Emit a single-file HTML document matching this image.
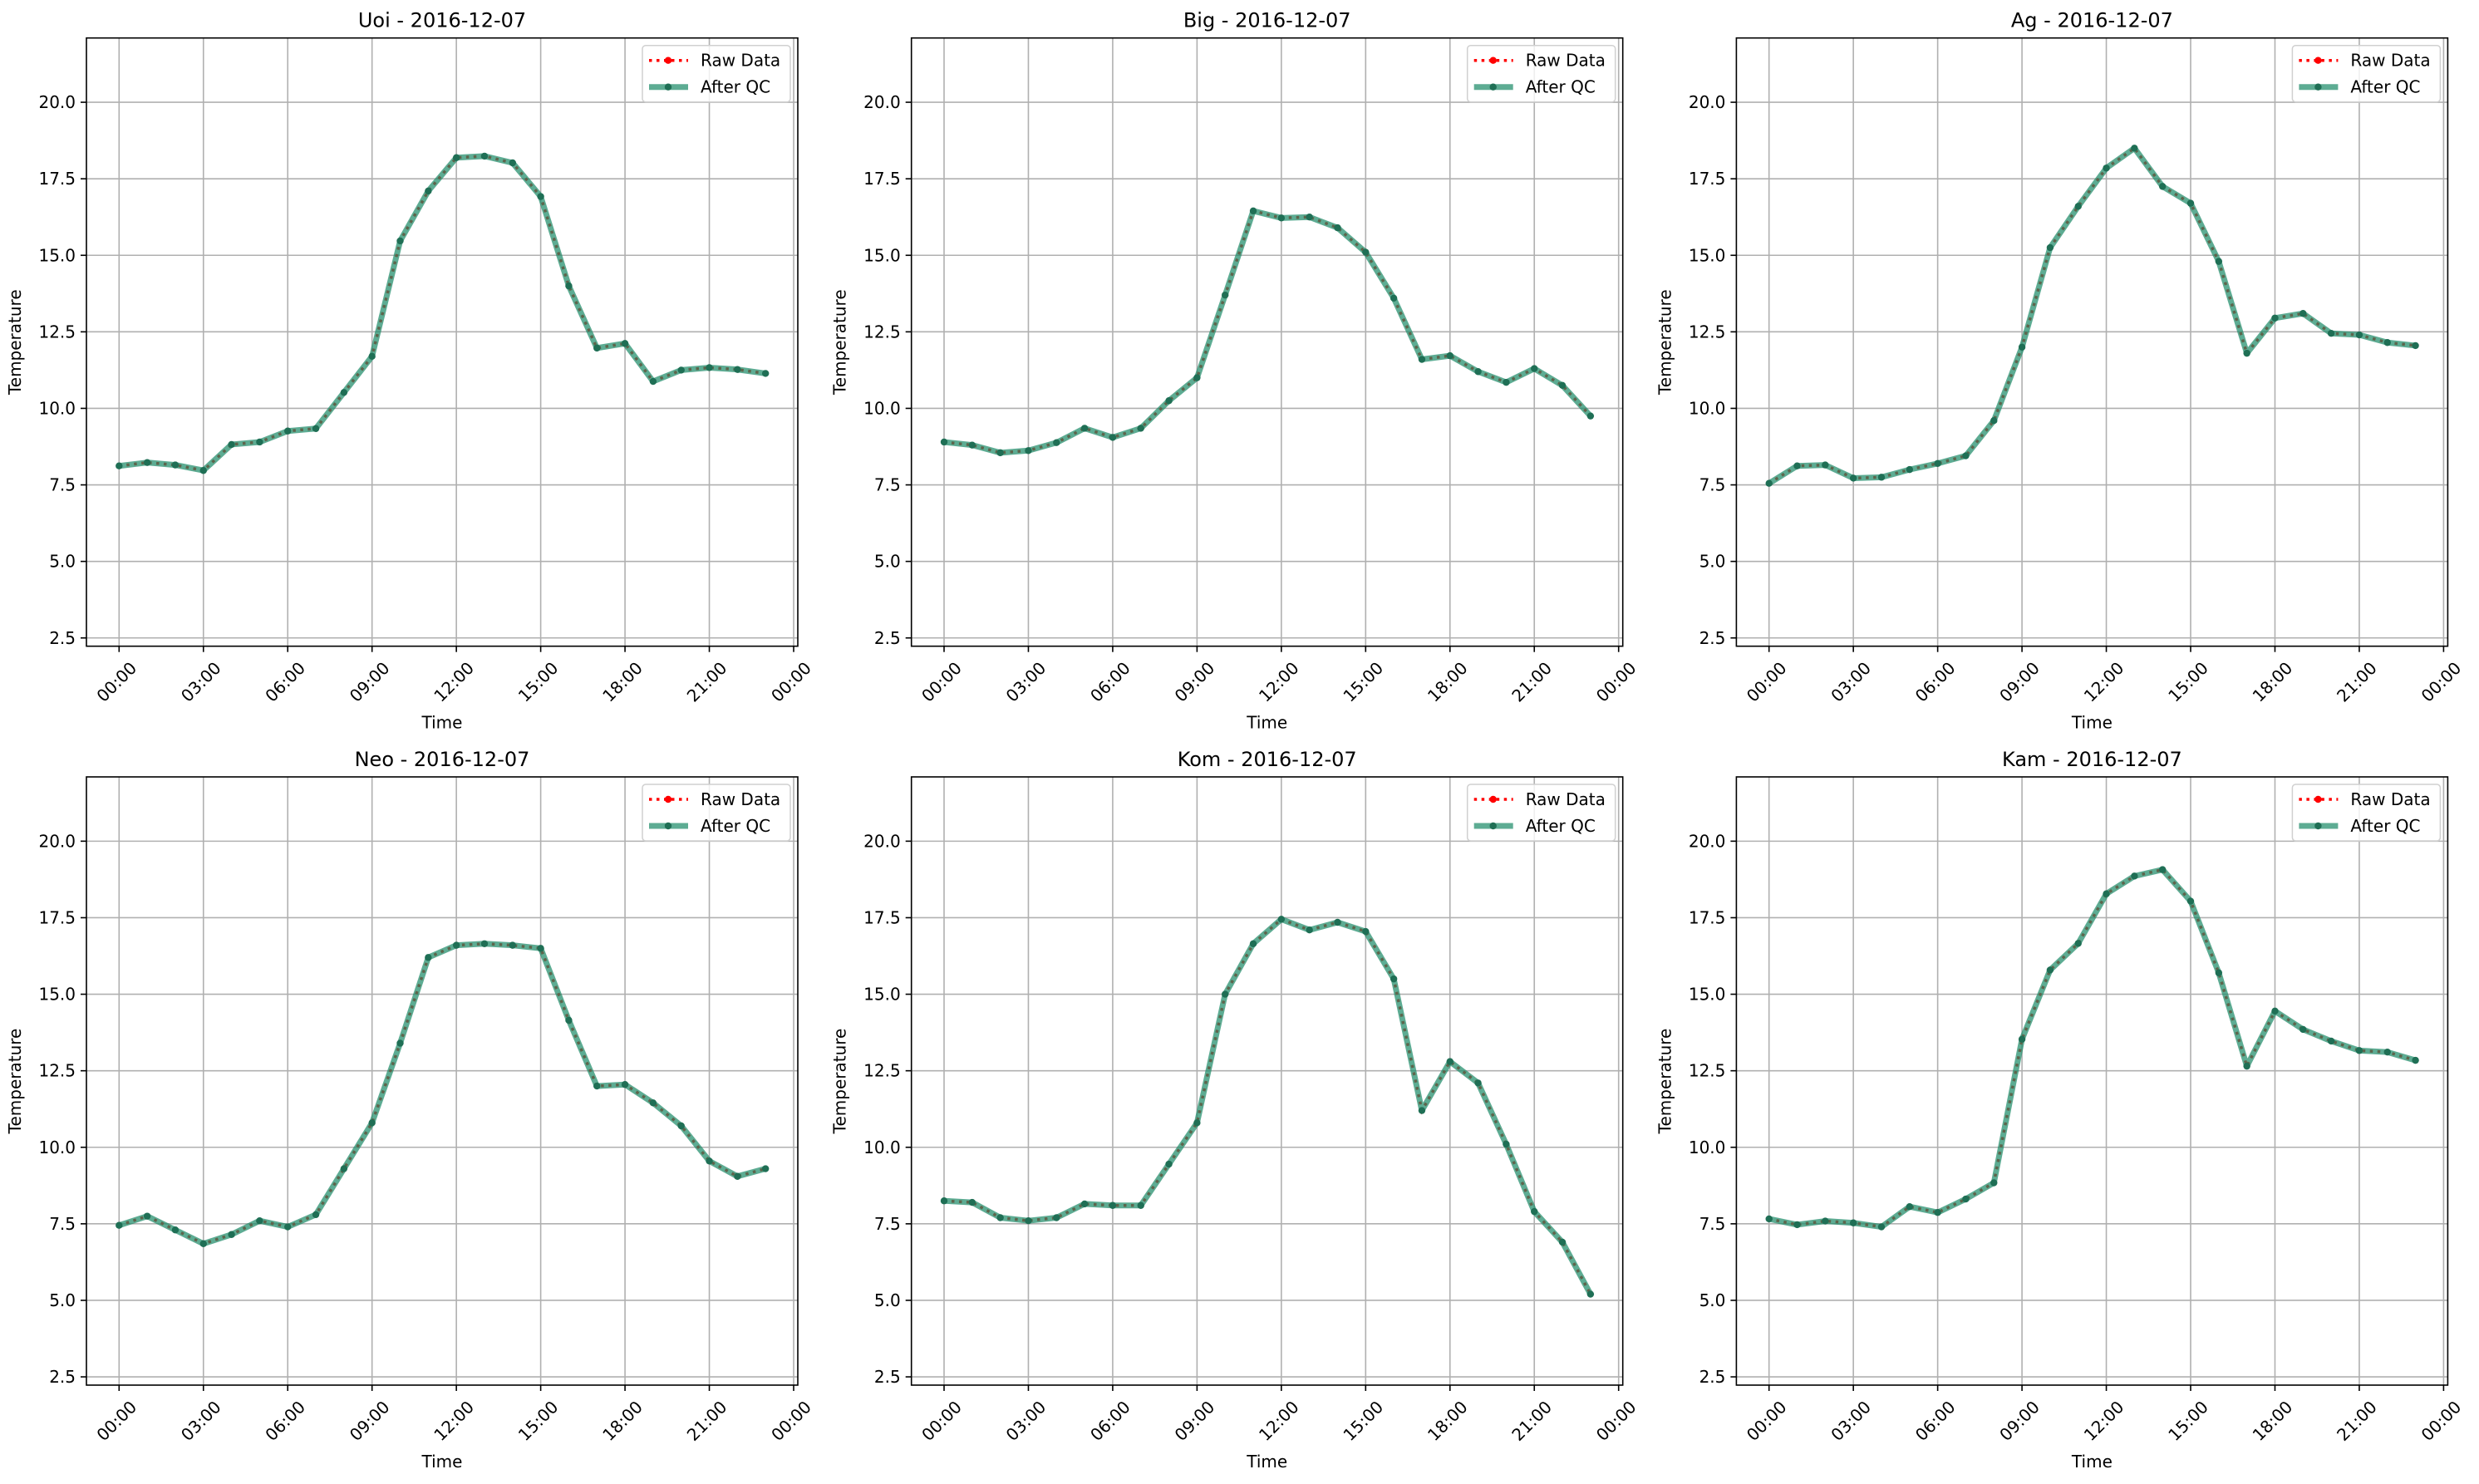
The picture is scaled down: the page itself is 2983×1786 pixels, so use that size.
<!DOCTYPE html>
<html><head><meta charset="utf-8"><style>
html,body{margin:0;padding:0;background:#fff;}
svg text{font-family:"DejaVu Sans","Liberation Sans",sans-serif;fill:#000;}
</style></head><body>
<svg id="chart" width="2983" height="1781" viewBox="0 0 2983 1781" xmlns="http://www.w3.org/2000/svg"></svg>
<script>
const stations = ["Uoi","Big","Ag","Neo","Kom","Kam"];
const dateLabel = "2016-12-07";
const hours = [0,1,2,3,4,5,6,7,8,9,10,11,12,13,14,15,16,17,18,19,20,21,22,23];
const uoiValues = [8.12,8.23,8.15,7.97,8.82,8.9,9.26,9.34,10.52,11.7,15.47,17.1,18.19,18.24,18.02,16.92,14.0,11.97,12.12,10.88,11.25,11.33,11.27,11.14];
const bigValues = [8.9,8.8,8.55,8.62,8.88,9.35,9.05,9.35,10.25,11.0,13.7,16.45,16.22,16.25,15.9,15.1,13.6,11.6,11.72,11.2,10.85,11.3,10.75,9.75];
const agValues = [7.55,8.12,8.15,7.72,7.75,8.0,8.2,8.45,9.6,12.0,15.25,16.6,17.85,18.5,17.25,16.7,14.8,11.8,12.95,13.1,12.45,12.4,12.15,12.05];
const neoValues = [7.45,7.75,7.3,6.85,7.15,7.6,7.4,7.8,9.3,10.8,13.4,16.2,16.6,16.65,16.6,16.5,14.15,12.0,12.05,11.45,10.7,9.55,9.05,9.3];
const komValues = [8.25,8.2,7.7,7.6,7.7,8.15,8.1,8.1,9.45,10.8,15.0,16.65,17.45,17.1,17.35,17.05,15.5,11.2,12.8,12.1,10.1,7.9,6.9,5.2];
const kamValues = [7.66,7.47,7.59,7.53,7.4,8.06,7.87,8.31,8.84,13.53,15.79,16.66,18.28,18.86,19.07,18.04,15.7,12.65,14.45,13.85,13.47,13.16,13.11,12.84];
const yTicks = [2.5,5.0,7.5,10.0,12.5,15.0,17.5,20.0];
const xTickHours = [0,3,6,9,12,15,18,21,24];
const xTickLabels = ["00:00","03:00","06:00","09:00","12:00","15:00","18:00","21:00","00:00"];

const series = [uoiValues,bigValues,agValues,neoValues,komValues,kamValues];
const NS="http://www.w3.org/2000/svg";
const svg=document.getElementById('chart');
function mk(tag,attrs,parent){const e=document.createElementNS(NS,tag);for(const k in attrs)e.setAttribute(k,attrs[k]);(parent||svg).appendChild(e);return e;}

const W=856,H=732,colOff=992.7,rowOff=889.3,L0=104,T0=45.7;
const yMin=2.23,yMax=22.10;
for(let p=0;p<6;p++){
  const col=p%3,row=Math.floor(p/3);
  const L=L0+col*colOff,T=T0+row*rowOff,R=L+W,B=T+H;
  const x0=L+39.3,hourW=811.7/24;
  const xs=h=>x0+h*hourW;
  const ys=v=>B-(v-yMin)/(yMax-yMin)*H;
  const g=mk('g',{});
  
  
  xTickHours.forEach(h=>{const l=mk('line',{x1:xs(h),x2:xs(h),y1:T,y2:B,stroke:'#b0b0b0','stroke-width':1.6},g);});
  yTicks.forEach(v=>{const l=mk('line',{x1:L,x2:R,y1:ys(v),y2:ys(v),stroke:'#b0b0b0','stroke-width':1.6},g);});
  yTicks.forEach(v=>{
    mk('line',{x1:L-7,x2:L,y1:ys(v),y2:ys(v),stroke:'#000','stroke-width':1.6},g);
    const t=mk('text',{x:L-13,y:ys(v)+7,'text-anchor':'end','font-size':20},g);
    
    t.textContent=v.toFixed(1);
  });
  xTickHours.forEach((h,i)=>{
    mk('line',{x1:xs(h),x2:xs(h),y1:B,y2:B+7,stroke:'#000','stroke-width':1.6},g);
    const cx=xs(h)-3,cy=B+43;
    const t=mk('text',{x:cx,y:cy+7,'text-anchor':'middle','font-size':20,transform:`rotate(-45 ${cx} ${cy})`},g);
    
    t.textContent=xTickLabels[i];
  });
  const vals=series[p];
  const pts=hours.map((h,i)=>xs(h)+','+ys(vals[i])).join(' ');
  const raw=mk('polyline',{points:pts,fill:'none',stroke:'#ff0000','stroke-width':3.5,'stroke-dasharray':'3.5 5.5'},g);
  
  const qc=mk('polyline',{points:pts,fill:'none',stroke:'rgb(30,140,105)','stroke-opacity':0.72,'stroke-width':7,'stroke-linejoin':'round'},g);
  
  hours.forEach((h,i)=>{const c=mk('circle',{cx:xs(h),cy:ys(vals[i]),r:4.2,fill:'#1f6f55'},g);});
  const sp=mk('rect',{x:L,y:T,width:W,height:H,fill:'none',stroke:'#000','stroke-width':1.6},g);
  
  const ti=mk('text',{x:L+W/2,y:T-13,'text-anchor':'middle','font-size':24},g);
  
  ti.textContent=stations[p]+' - '+dateLabel;
  const xl=mk('text',{x:L+W/2,y:B+99,'text-anchor':'middle','font-size':20},g);
  
  xl.textContent='Time';
  const yx=L-79,yy=T+H/2;
  const yl=mk('text',{x:yx,y:yy,'text-anchor':'middle','font-size':20,transform:`rotate(-90 ${yx} ${yy})`},g);
  
  yl.textContent='Temperature';
  const lg=mk('g',{},g);
  
  const lx=R-187,ly=T+9;
  mk('rect',{x:lx,y:ly,width:178,height:68,rx:4,fill:'#fff','fill-opacity':0.8,stroke:'#d0d0d0','stroke-width':1.5},lg);
  mk('line',{x1:lx+8,x2:lx+55,y1:ly+18,y2:ly+18,stroke:'#ff0000','stroke-width':3.5,'stroke-dasharray':'3.5 5.5'},lg);
  mk('circle',{cx:lx+31,cy:ly+18,r:4.2,fill:'#ff0000'},lg);
  const e1=mk('text',{x:lx+70,y:ly+25,'font-size':20},lg);
  
  e1.textContent='Raw Data';
  mk('line',{x1:lx+8,x2:lx+55,y1:ly+50,y2:ly+50,stroke:'rgb(30,140,105)','stroke-opacity':0.72,'stroke-width':7},lg);
  mk('circle',{cx:lx+31,cy:ly+50,r:4.2,fill:'#1f6f55'},lg);
  const e2=mk('text',{x:lx+70,y:ly+57,'font-size':20},lg);
  
  e2.textContent='After QC';
}
</script>
</body></html>
